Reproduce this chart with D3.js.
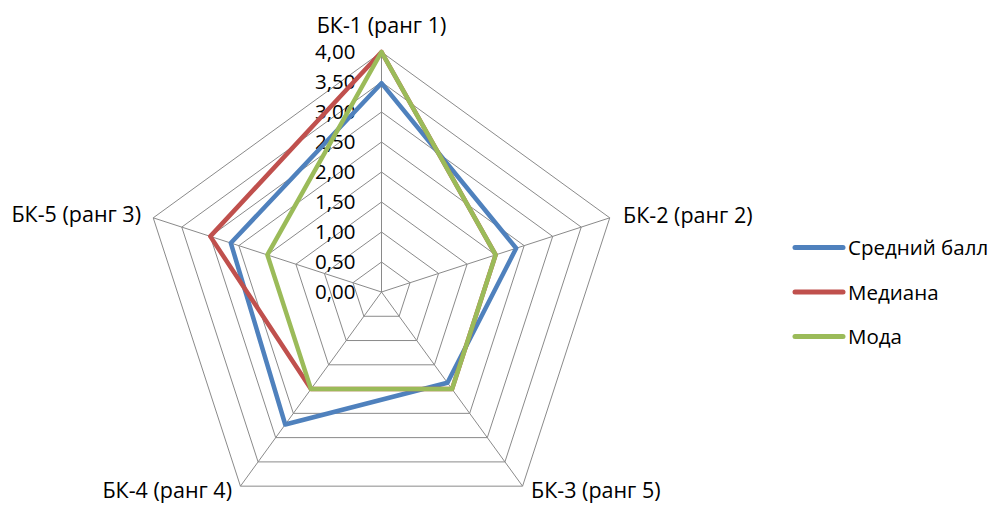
<!DOCTYPE html>
<html>
<head>
<meta charset="utf-8">
<script src="https://cdn.jsdelivr.net/npm/d3@7"></script>
<style>
  html, body { margin: 0; padding: 0; background: #fff; }
  svg text { font-family: "Open Sans", "Liberation Sans", sans-serif; fill: #000; }
</style>
</head>
<body>
<svg id="chart" width="999" height="507"></svg>
<script>
// Axes of the radar and the three statistics per block
const categories = ["БК-1 (ранг 1)", "БК-2 (ранг 2)", "БК-3 (ранг 5)", "БК-4 (ранг 4)", "БК-5 (ранг 3)"];
const meanScore = [3.48, 2.36, 1.87, 2.73, 2.64];
const median    = [4.00, 2.00, 2.00, 2.00, 3.00];
const mode      = [4.00, 2.00, 2.00, 2.00, 2.00];
const seriesNames = ["Средний балл", "Медиана", "Мода"];
const seriesColors = ["#4F81BD", "#C0504D", "#9BBB59"];
const tickValues = [0, 0.5, 1, 1.5, 2, 2.5, 3, 3.5, 4];

const svg = d3.select("#chart");
const cx = 381.5, cy = 292, R = 240;

const r = d3.scaleLinear().domain([0, 4]).range([0, R]);
const angle = d3.scalePoint().domain(d3.range(categories.length)).range([0, 2 * Math.PI * (categories.length - 1) / categories.length]);
const pt = (i, v) => [cx + r(v) * Math.sin(angle(i)), cy - r(v) * Math.cos(angle(i))];

const grid = svg.append("g").attr("stroke", "#8a8a8a").attr("stroke-width", 1).attr("fill", "none");
// concentric pentagons
tickValues.slice(1).forEach(t => {
  grid.append("polygon")
    .attr("points", categories.map((c, i) => pt(i, t).join(",")).join(" "));
});
// spokes
categories.forEach((c, i) => {
  const [x, y] = pt(i, 4);
  grid.append("line").attr("x1", cx).attr("y1", cy).attr("x2", x).attr("y2", y);
});

// value labels along the first spoke
svg.append("g").selectAll("text").data(tickValues).join("text")
  .attr("x", cx - 26).attr("y", d => cy - r(d) + 7)
  .attr("text-anchor", "end")
  .attr("font-size", 20.5)
  .text(d => d3.format(".2f")(d).replace(".", ","));

// category labels (alphabetic baseline)
const labelPos = [
  { x: cx, y: 33, anchor: "middle" },
  { x: 623, y: 223, anchor: "start" },
  { x: 531, y: 498, anchor: "start" },
  { x: 232, y: 498, anchor: "end" },
  { x: 141, y: 222, anchor: "end" }
];
svg.append("g").selectAll("text").data(categories).join("text")
  .attr("x", (d, i) => labelPos[i].x).attr("y", (d, i) => labelPos[i].y)
  .attr("text-anchor", (d, i) => labelPos[i].anchor)
  .attr("font-size", 21.5)
  .text(d => d);

// series polygons
const line = d3.lineRadial().angle((d, i) => angle(i)).radius(d => r(d)).curve(d3.curveLinearClosed);
const seriesData = [meanScore, median, mode];
svg.append("g").attr("transform", `translate(${cx},${cy})`)
  .selectAll("path").data(seriesData).join("path")
  .attr("d", d => line(d))
  .attr("fill", "none")
  .attr("stroke", (d, i) => seriesColors[i])
  .attr("stroke-width", 4.5)
  .attr("stroke-linejoin", "round");

// legend
const legend = svg.append("g").selectAll("g").data(seriesNames).join("g")
  .attr("transform", (d, i) => `translate(795, ${247.5 + i * 44.5})`);
legend.append("line")
  .attr("x1", 0).attr("x2", 48).attr("y1", 0).attr("y2", 0)
  .attr("stroke", (d, i) => seriesColors[i]).attr("stroke-width", 5).attr("stroke-linecap", "round");
legend.append("text")
  .attr("x", 53).attr("y", 7.5)
  .attr("font-size", 20.5)
  .text(d => d);
</script>
</body>
</html>
